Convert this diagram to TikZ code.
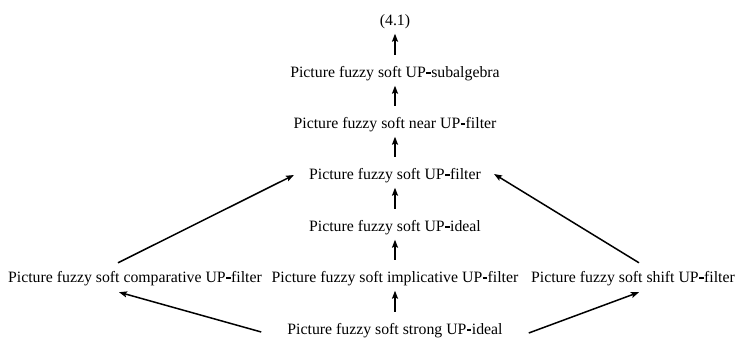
\documentclass[tikz,border=0pt]{standalone}
\usepackage{fontspec}
\setmainfont{Liberation Serif}
\usetikzlibrary{arrows.meta}
\newcommand{\hy}{\kern0.4pt\rule[3.6pt]{4.6pt}{1.7pt}\kern0.4pt}
\begin{document}
\begin{tikzpicture}[x=1pt,y=-1pt,
  lbl/.style={inner sep=0pt,text height=11pt,text depth=4pt,font=\fontsize{15.8}{18}\selectfont},
  arr/.style={line width=1.5pt,-{Stealth[length=8pt,width=6pt,inset=1.5pt]}}]
\useasboundingbox (0,0) rectangle (736,339);
\node[lbl] (eq)   at (395,22)  {(4.1)};
\node[lbl] (sub)  at (395,74)  {Picture fuzzy soft UP\hy subalgebra};
\node[lbl] (near) at (395,125) {Picture fuzzy soft near UP\hy filter};
\node[lbl] (fil)  at (395,176) {Picture fuzzy soft UP\hy filter};
\node[lbl] (idl)  at (395,228) {Picture fuzzy soft UP\hy ideal};
\node[lbl] (comp) at (135,279) {Picture fuzzy soft comparative UP\hy filter};
\node[lbl] (imp)  at (395,279) {Picture fuzzy soft implicative UP\hy filter};
\node[lbl] (shf)  at (633,279) {Picture fuzzy soft shift UP\hy filter};
\node[lbl] (str)  at (395,331) {Picture fuzzy soft strong UP\hy ideal};
\foreach \a/\b in {sub/eq,near/sub,fil/near,idl/fil,imp/idl,str/imp}
  \draw[arr,shorten <=11.5pt,shorten >=4pt] (\a.north) -- (\b.south);
\draw[arr] ([shift={(-17,-8.5)}]comp.north) -- ([shift={(-15,-1)}]fil.west);
\draw[arr] ([shift={(6,-8.5)}]shf.north) -- ([shift={(13,-2)}]fil.east);
\draw[arr] ([shift={(-26,1)}]str.west) -- ([shift={(-16,5.5)}]comp.south);
\draw[arr] ([shift={(26,2)}]str.east) -- ([shift={(6,5.5)}]shf.south);
\end{tikzpicture}
\end{document}
